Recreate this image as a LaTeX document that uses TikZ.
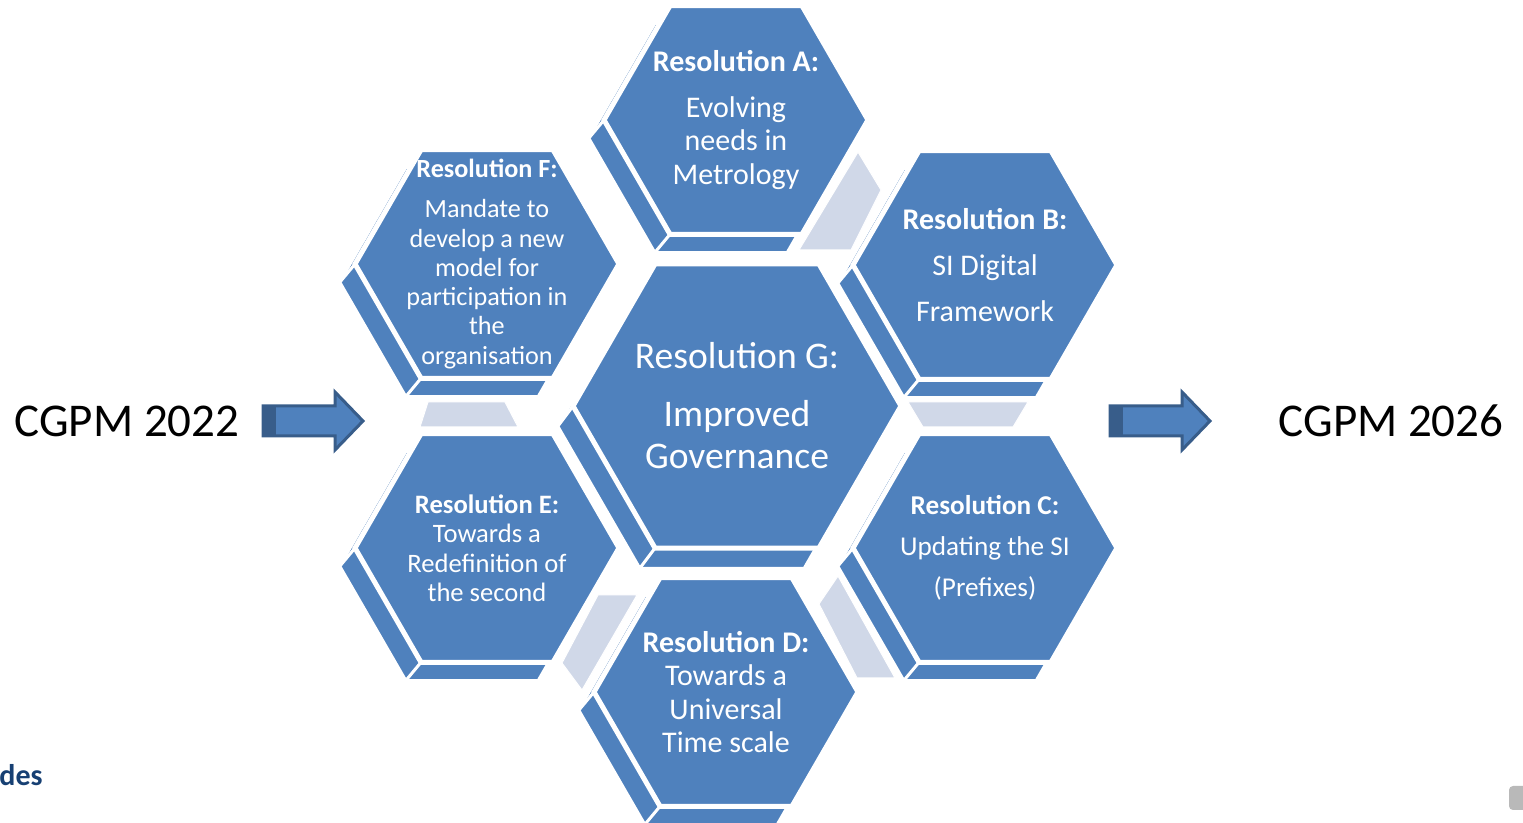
\documentclass[tikz,border=0pt]{standalone}
\usepackage{fontspec}
\setmainfont{Carlito}
\usepackage{tikz}
\usetikzlibrary{shapes,positioning}
\definecolor{hexblue}{RGB}{79,129,189}
\definecolor{linkgray}{RGB}{208,216,232}
\definecolor{arrowdark}{RGB}{56,93,138}
\definecolor{logoblue}{RGB}{23,64,115}
\tikzstyle{hexfront} = [regular polygon, regular polygon sides=6, draw=white, line width=2.5pt, fill=hexblue, inner sep=0pt, outer sep=0pt]
\tikzstyle{hexback} = [regular polygon, regular polygon sides=6, draw=white, line width=1.2pt, fill=hexblue, inner sep=0pt, outer sep=0pt, xshift=-7.5pt, yshift=-9pt]
\tikzstyle{hexedge} = [draw=white, line width=1.5pt]
\tikzstyle{hextext} = [draw=none, fill=none, text=white, align=center, inner sep=0pt]
\tikzstyle{link} = [fill=linkgray, draw=white, line width=0.5pt]
\tikzstyle{blockarrow} = [fill=hexblue, draw=arrowdark, line width=1.5pt, line join=miter]
\tikzstyle{textonly} = [draw=none, fill=none, text=black, inner sep=0pt, font=\fontsize{23.5}{26}\selectfont]

\begin{document}
\begin{tikzpicture}[x=0.5pt, y=-0.5pt]
\useasboundingbox (0,0) rectangle (1523,823);

%back faces
\node[hexback, minimum size=132pt] (backA) at (736,120) {};
\node[hexback, minimum size=132pt] (backB) at (985,265) {};
\node[hexback, minimum size=132pt] (backC) at (985,548) {};
\node[hexback, minimum size=132pt] (backD) at (726,692) {};
\node[hexback, minimum size=132pt] (backE) at (487,548) {};
\node[hexback, minimum size=132pt] (backF) at (487,264) {};
\node[hexback, minimum size=164pt, yshift=-1pt] (backG) at (737,406) {};

%front faces
\node[hexfront, minimum size=132pt] (hexA) at (736,120) {};
\node[hexfront, minimum size=132pt] (hexB) at (985,265) {};
\node[hexfront, minimum size=132pt] (hexC) at (985,548) {};
\node[hexfront, minimum size=132pt] (hexD) at (726,692) {};
\node[hexfront, minimum size=132pt] (hexE) at (487,548) {};
\node[hexfront, minimum size=132pt] (hexF) at (487,264) {};
\node[hexfront, minimum size=164pt] (hexG) at (737,406) {};

%bevel edges
\foreach \h in {A,B,C,D,E,F,G}
  \foreach \i in {2,3,4}
    \path[hexedge] (back\h.corner \i) -- (hex\h.corner \i);

%links
\path[link] (858,152) -- (881,190) -- (851,250) -- (799,250) -- cycle;
\path[link] (908,402) -- (1028,402) -- (1013,427) -- (923,427) -- cycle;
\path[link] (838,576) -- (895,678) -- (857,678) -- (819,604) -- cycle;
\path[link] (598,595) -- (637,595) -- (582,690) -- (562,663) -- cycle;
\path[link] (428,402) -- (505,402) -- (518,427) -- (420,427) -- cycle;

%texts
\node[hextext, font=\fontsize{15}{16.75}\selectfont] (txtA) at (hexA) {\textbf{Resolution A:}\\[6.25pt]Evolving\\needs in\\Metrology};
\node[hextext, font=\fontsize{15}{23}\selectfont] (txtB) at (hexB) {\textbf{Resolution B:}\\SI Digital\\Framework};
\node[hextext, font=\fontsize{13.6}{20.5}\selectfont] (txtC) at (hexC) {\textbf{Resolution C:}\\Updating the SI\\(Prefixes)};
\node[hextext, font=\fontsize{15}{16.75}\selectfont] (txtD) at (hexD) {\textbf{Resolution D:}\\Towards a\\Universal\\Time scale};
\node[hextext, font=\fontsize{13.3}{14.75}\selectfont] (txtE) at (hexE) {\textbf{Resolution E:}\\Towards a\\Redefinition of\\the second};
\node[hextext, font=\fontsize{13.1}{14.65}\selectfont] (txtF) at (hexF) {\textbf{Resolution F:}\\[5.35pt]Mandate to\\develop a new\\model for\\participation in\\the\\organisation};
\node[hextext, font=\fontsize{18.8}{21}\selectfont] (txtG) at (hexG) {Resolution G:\\[8pt]Improved\\Governance};

%sides
\node[textonly] (start) at (127,421) {CGPM 2022};
\node[textonly] (finish) at (1391,421) {CGPM 2026};
\coordinate (inL) at (263,421);
\coordinate (outR) at (1110,421);
\draw[blockarrow] (inL) ++(0,-15) -- ++(72,0) -- ++(0,-14) -- ++(28,29) -- ++(-28,29) -- ++(0,-14) -- ++(-72,0) -- cycle;
\fill[arrowdark] (inL) ++(0,-15) rectangle ++(13,30);
\draw[blockarrow] (outR) ++(0,-15) -- ++(72,0) -- ++(0,-14) -- ++(28,29) -- ++(-28,29) -- ++(0,-14) -- ++(-72,0) -- cycle;
\fill[arrowdark] (outR) ++(0,-15) rectangle ++(13,30);

\node[anchor=west, text=logoblue, inner sep=0pt, font=\fontsize{15}{17}\selectfont\bfseries] (logo) at (-1,775) {des};
\fill[gray!55, rounded corners=2pt] (1509,786) rectangle (1535,810);

\end{tikzpicture}
\end{document}
